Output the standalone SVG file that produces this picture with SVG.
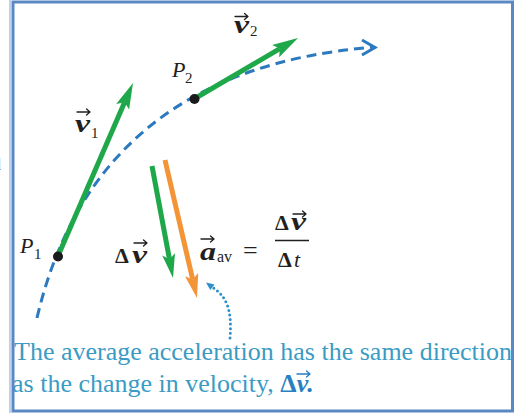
<svg xmlns="http://www.w3.org/2000/svg" width="523" height="413" viewBox="0 0 523 413">
<style>
  .lbl { font-family: "Liberation Serif", "DejaVu Serif", serif; fill: #231f20; }
  .it { font-style: italic; }
  .bi { font-style: italic; font-weight: bold; }
  .b { font-weight: bold; }
  .sub { font-size: 15px; }
  .vec { fill: none; stroke: #231f20; stroke-width: 1.3; stroke-linecap: round; stroke-linejoin: round; }
  .green { stroke: #1fa84a; stroke-width: 5; fill: none; }
  .greenhead { fill: #1fa84a; }
  .orange { stroke: #f39437; stroke-width: 5; fill: none; }
  .orangehead { fill: #f39437; }
  .traj { fill: none; stroke: #2b79bf; stroke-width: 3; stroke-dasharray: 10 6; }
  .cap { font-family: "Liberation Serif", "DejaVu Serif", serif; font-size: 26px; fill: #3b9bc4; }
</style>

<rect x="0" y="0" width="523" height="413" fill="#ffffff"/>
<text x="-7" y="170" font-family="Liberation Serif, serif" font-size="16" fill="#777777">d</text>

<g id="connectors">
  <path id="trajectory" class="traj" d="M37,318 Q95,70 372,47.3"/>
  <path class="traj" style="stroke-dasharray:none" d="M362,40 L375,47.5 L362,55"/>
  <path id="pointer" d="M230,338 C232,312 228,297 212,287" fill="none" stroke="#2e8fca" stroke-width="3" stroke-linecap="round" stroke-dasharray="0 4.6"/>
  <polygon points="206,282.5 214.5,284.5 210.3,290.1" fill="#2e8fca"/>
</g>

<g id="v1">
  <line class="green" x1="58" y1="256" x2="124.6" y2="102.3"/>
  <polygon class="greenhead" points="133,83 129.1,109.6 124.6,102.3 116.2,104.1"/>
  <text class="lbl bi" x="75" y="132" font-size="26" textLength="15" lengthAdjust="spacingAndGlyphs">v</text>
  <path class="vec" d="M77,112 H90 M86.5,109 L90,112 L86.5,115"/>
  <text class="lbl sub" x="91" y="138">1</text>
</g>

<g id="v2">
  <line class="green" x1="194" y1="99" x2="279.9" y2="48.6"/>
  <polygon class="greenhead" points="298,38 279.1,57.2 279.9,48.6 272.1,45.1"/>
  <text class="lbl bi" x="234" y="33" font-size="26" textLength="15" lengthAdjust="spacingAndGlyphs">v</text>
  <path class="vec" d="M235,16.5 H248 M244.5,13.5 L248,16.5 L244.5,19.5"/>
  <text class="lbl sub" x="250" y="36">2</text>
</g>

<g id="P1">
  <circle cx="58" cy="256.5" r="5" fill="#1a1a1a"/>
  <text class="lbl it" x="20" y="253" font-size="22">P</text>
  <text class="lbl sub" x="34" y="259">1</text>
</g>

<g id="P2">
  <circle cx="194.5" cy="99" r="5" fill="#1a1a1a"/>
  <text class="lbl it" x="172" y="77" font-size="22">P</text>
  <text class="lbl sub" x="185" y="83">2</text>
</g>

<g id="delta-v">
  <line class="green" x1="152" y1="166" x2="169.5" y2="259.3"/>
  <polygon class="greenhead" points="173,278 162.2,255.6 169.5,259.3 175,253.2"/>
  <text class="lbl b" x="115" y="263" font-size="22">Δ</text>
  <text class="lbl bi" x="132" y="263" font-size="26" textLength="15" lengthAdjust="spacingAndGlyphs">v</text>
  <path class="vec" d="M134,243 H147 M143.5,240 L147,243 L143.5,246"/>
</g>

<g id="a-av">
  <line class="orange" x1="165" y1="160" x2="192.7" y2="279.5"/>
  <polygon class="orangehead" points="197,298 185,276.2 192.7,279.5 198.2,273"/>
  <text class="lbl bi" x="200" y="260" font-size="26" textLength="16" lengthAdjust="spacingAndGlyphs">a</text>
  <path class="vec" d="M201,239 H214 M210.5,236 L214,239 L210.5,242"/>
  <text class="lbl" x="217" y="262" font-size="16">av</text>
  <text class="lbl" x="243" y="259" font-size="26">=</text>
  <text class="lbl b" x="275" y="230" font-size="22">Δ</text>
  <text class="lbl bi" x="291" y="230" font-size="26" textLength="15" lengthAdjust="spacingAndGlyphs">v</text>
  <path class="vec" d="M293,214 H306 M302.5,211 L306,214 L302.5,217"/>
  <line x1="275" y1="240.5" x2="309" y2="240.5" stroke="#231f20" stroke-width="1.5"/>
  <text class="lbl b" x="278" y="267" font-size="22">Δ</text>
  <text class="lbl it" x="294" y="267" font-size="22">t</text>
</g>

<g id="caption">
  <text class="cap" x="14" y="360">The average acceleration has the same direction</text>
  <text class="cap" x="12" y="392">as the change in velocity, <tspan font-weight="bold" fill="#2a7fc0">Δ</tspan><tspan font-weight="bold" font-style="italic" fill="#2a7fc0">v.</tspan></text>
  <path d="M297,374 H310 M306.5,371 L310,374 L306.5,377" fill="none" stroke="#2a7fc0" stroke-width="1.3" stroke-linecap="round" stroke-linejoin="round"/>
</g>

<g id="frame" fill="none">
  <line x1="10" y1="0" x2="10" y2="413" stroke="#a9c3e6" stroke-width="1.5"/>
  <rect x="13" y="2" width="499.5" height="409" stroke="#5b87c5" stroke-width="3"/>
</g>
</svg>
